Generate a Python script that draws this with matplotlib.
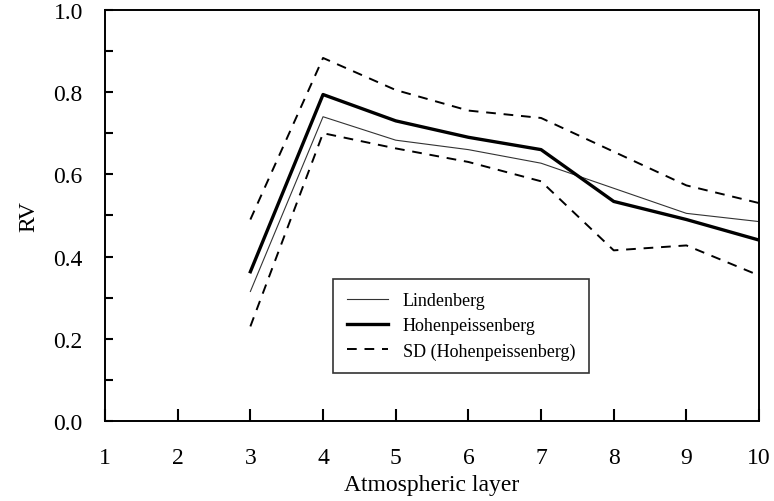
import matplotlib
matplotlib.use('Agg')
import matplotlib.pyplot as plt
from matplotlib.ticker import MultipleLocator

layers = [3, 4, 5, 6, 7, 8, 9, 10]
lindenberg = [0.315, 0.74, 0.683, 0.66, 0.627, 0.566, 0.505, 0.485]
hohenpeissenberg = [0.363, 0.794, 0.73, 0.69, 0.66, 0.534, 0.49, 0.44]
sd_upper = [0.49, 0.883, 0.805, 0.755, 0.737, 0.655, 0.573, 0.53]
sd_lower = [0.23, 0.70, 0.663, 0.63, 0.583, 0.415, 0.427, 0.354]


def main():
    plt.rcParams['font.family'] = ['Liberation Serif', 'DejaVu Serif']
    fig = plt.figure(figsize=(7.74, 5.02), dpi=100)
    ax = fig.add_axes([0.1357, 0.1594, 0.845, 0.819])

    ax.plot(layers, lindenberg, color='#333333', lw=0.8, label='Lindenberg')
    ax.plot(layers, hohenpeissenberg, color='black', lw=2.4, label='Hohenpeissenberg')
    ax.plot(layers, sd_upper, color='black', lw=1.4, dashes=(5, 4),
            label='SD (Hohenpeissenberg)')
    ax.plot(layers, sd_lower, color='black', lw=1.4, dashes=(5, 4))

    ax.set_xlim(1, 10)
    ax.set_ylim(0, 1.0)
    ax.set_xticks(range(1, 11))
    ax.yaxis.set_major_locator(MultipleLocator(0.2))
    ax.yaxis.set_minor_locator(MultipleLocator(0.1))
    ax.yaxis.set_major_formatter(plt.FormatStrFormatter('%.1f'))
    ax.tick_params(axis='both', which='both', direction='in', top=False,
                   right=False, labelsize=17, width=1.5)
    ax.tick_params(axis='x', length=9, pad=19)
    ax.tick_params(axis='y', which='both', length=6, pad=16)
    for s in ax.spines.values():
        s.set_linewidth(1.4)

    ax.set_xlabel('Atmospheric layer', fontsize=17, labelpad=4)
    ax.set_ylabel('RV', fontsize=17, labelpad=10)

    leg = ax.legend(loc='upper left', bbox_to_anchor=(0.349, 0.346),
                    borderaxespad=0, fontsize=13, frameon=True,
                    fancybox=False, handlelength=2.3, borderpad=0.75,
                    labelspacing=0.45)
    leg.get_frame().set_edgecolor('black')
    leg.get_frame().set_linewidth(1.2)

    fig.savefig('out.png', dpi=100)


if __name__ == '__main__':
    main()
